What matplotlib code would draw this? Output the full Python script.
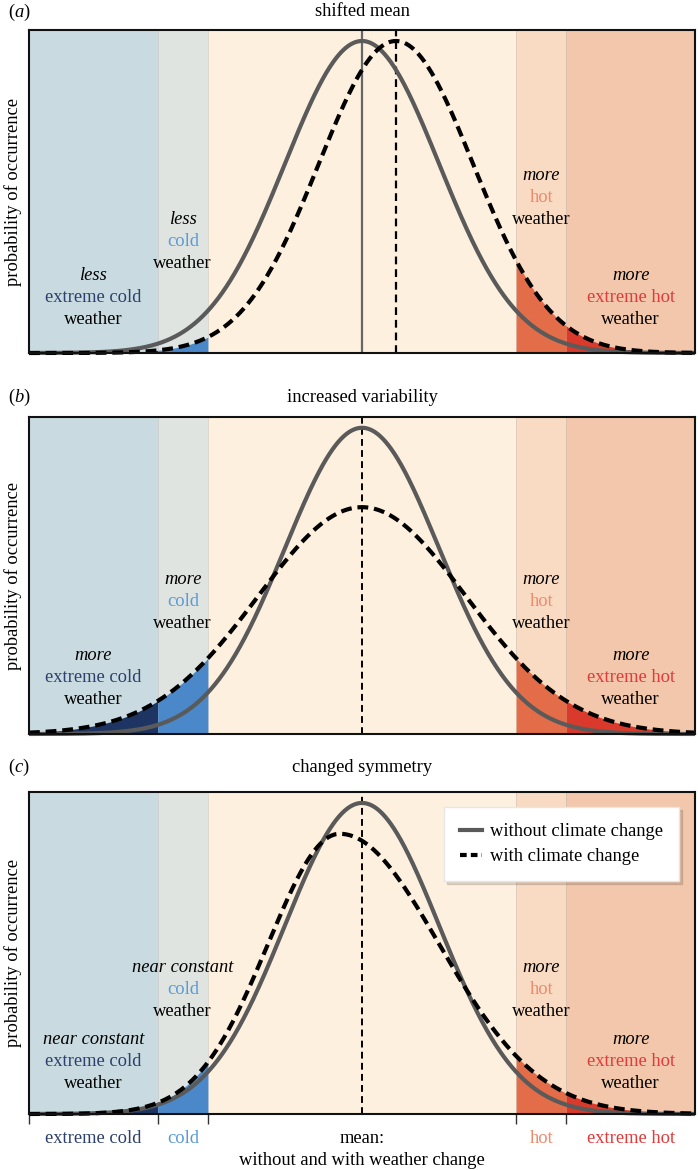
import numpy as np
import matplotlib
matplotlib.use("Agg")
import matplotlib.pyplot as plt
from matplotlib.lines import Line2D
import matplotlib.transforms as mtransforms

plt.rcParams['font.family'] = ['Liberation Serif', 'DejaVu Serif']
plt.rcParams['mathtext.fontset'] = 'custom'
plt.rcParams['mathtext.rm'] = 'Liberation Serif'
plt.rcParams['mathtext.it'] = 'Liberation Serif:italic'

# ---------------- data ----------------
panel_letters = ["a", "b", "c"]
panel_titles = ["shifted mean", "increased variability", "changed symmetry"]
# category thresholds (in standard deviations of the 'without' distribution)
thresholds = [-2.65, -2.0, 2.0, 2.65]
category_names = ["extreme cold", "cold", "hot", "extreme hot"]
# baseline distribution
base_mode = 0.0
base_sd = 1.0
# changed distribution (two-piece normal): mode, left sd, right sd
changed_mode = [0.44, 0.0, -0.29]
changed_sd_left = [1.0, 1.35, 0.93]
changed_sd_right = [1.0, 1.35, 1.29]
# mean marker lines per panel
mean_without = [0.0, 0.0, 0.0]
mean_with = [0.44, 0.0, 0.0]
# qualifiers for the four categories
qualifiers = [["less", "less", "more", "more"],
              ["more", "more", "more", "more"],
              ["near constant", "near constant", "more", "more"]]
legend_labels = ["without climate change", "with climate change"]

# ---------------- style ----------------
bg_colors = ["#c9dbe0", "#dfe4e1", "#fdf0de", "#f9dbc4", "#f3c7ab"]
fill_colors = ["#1e3563", "#4a88c9", "#e36d48", "#da3a2c"]
word_colors = ["#2d3f6c", "#5b9bd5", "#ef8a6b", "#e03a3a"]
FS = 13.3
W, H = 698, 1170
XMIN, XMAX = -4.32, 4.32
YMAX = 0.413


def two_piece(x, mode, sl, sr):
    a = 2.0 / (np.sqrt(2 * np.pi) * (sl + sr))
    s = np.where(x < mode, sl, sr)
    return a * np.exp(-(x - mode) ** 2 / (2 * s ** 2))


fig = plt.figure(figsize=(W / 100, H / 100), dpi=100)
fig.patch.set_facecolor("white")

# axes pixel boxes: (left, top, right, bottom)
boxes = [(29, 30, 695, 353), (29, 417, 695, 734), (29, 792, 695, 1114)]
label_y = [12, 397, 767]
# text row offsets (px above axes bottom) for top line of each annotation
row_extreme = [78, 79, 75]
row_cold = [134, 154, 146]
row_hot = [178, 154, 146]
line_gap = 22

x = np.linspace(XMIN, XMAX, 1200)
region_edges = [XMIN, thresholds[0], thresholds[1], thresholds[2], thresholds[3], XMAX]

for i in range(3):
    l, t, r, b = boxes[i]
    ax = fig.add_axes([l / W, 1 - b / H, (r - l) / W, (b - t) / H])
    ax.set_xlim(XMIN, XMAX)
    ax.set_ylim(0, YMAX)
    axh = b - t
    # backgrounds
    for k in range(5):
        ax.axvspan(region_edges[k], region_edges[k + 1], color=bg_colors[k], lw=0, zorder=0)
    for k in range(4):
        ax.axvline(thresholds[k], color="#b9b9b5", lw=0.6, alpha=0.5, zorder=0.5)

    base = two_piece(x, base_mode, base_sd, base_sd)
    chg = two_piece(x, changed_mode[i], changed_sd_left[i], changed_sd_right[i])

    tails = [(XMIN, thresholds[0]), (thresholds[0], thresholds[1]),
             (thresholds[2], thresholds[3]), (thresholds[3], XMAX)]
    for k, (a0, a1) in enumerate(tails):
        m = (x >= a0) & (x <= a1)
        xs = np.concatenate([[a0], x[m], [a1]])
        ys = two_piece(xs, changed_mode[i], changed_sd_left[i], changed_sd_right[i])
        ax.fill_between(xs, 0, ys, color=fill_colors[k], lw=0, zorder=1)

    # mean lines
    if i == 0:
        ax.axvline(mean_without[i], color="#666666", lw=1.6, zorder=2)
        ax.axvline(mean_with[i], color="black", lw=1.6, dashes=(3.5, 2.2), zorder=2)
    else:
        ax.axvline(mean_with[i], color="black", lw=1.4, dashes=(3.5, 2.2), zorder=2)

    ax.plot(x, base, color="#5a5a5a", lw=3.0, zorder=3, solid_capstyle="butt", clip_on=False)
    ax.plot(x, chg, color="black", lw=3.0, dashes=(2.6, 1.4), zorder=4, clip_on=False)

    for sp in ax.spines.values():
        sp.set_linewidth(1.5)
        sp.set_color("#111111")
        sp.set_zorder(5)

    ax.set_yticks([])
    if i == 2:
        ax.set_xticks([XMIN] + thresholds)
        ax.set_xticklabels([])
        ax.tick_params(axis="x", length=7, width=1.0, color="#333333", direction="out")
    else:
        ax.set_xticks([])

    ax.set_ylabel("probability of occurrence", fontsize=FS)
    ax.yaxis.set_label_coords(-0.011, 0.5)

    # title & panel letter
    fig.text(362 / W, 1 - label_y[i] / H, panel_titles[i], fontsize=FS,
             ha="center", va="center")
    fig.text(8 / W, 1 - label_y[i] / H, "(" + r"$\mathit{" + panel_letters[i] + "}$" + ")",
             fontsize=FS, ha="left", va="center")

    # annotations
    centers = [(XMIN + thresholds[0]) / 2, (thresholds[0] + thresholds[1]) / 2,
               (thresholds[2] + thresholds[3]) / 2, (thresholds[3] + XMAX) / 2]
    rows = [row_extreme[i], row_cold[i], row_hot[i], row_extreme[i]]
    trans = mtransforms.blended_transform_factory(ax.transData, ax.transAxes)
    for k in range(4):
        y0 = rows[k]
        words = [(qualifiers[i][k], "black", "italic"),
                 (category_names[k], word_colors[k], "normal"),
                 ("weather", "black", "normal")]
        for j, (wd, c, st) in enumerate(words):
            yy = (y0 - j * line_gap) / axh
            ax.text(centers[k], yy, wd, color=c, style=st, fontsize=FS,
                    ha="center", va="center", transform=trans, zorder=6)

    if i == 2:
        handles = [Line2D([], [], color="#5a5a5a", lw=3.0),
                   Line2D([], [], color="black", lw=3.0, dashes=(1.6, 1.0))]
        leg = ax.legend(handles, legend_labels, loc="upper right",
                        bbox_to_anchor=(0.976, 0.952), borderaxespad=0,
                        fontsize=FS, frameon=True, fancybox=False, framealpha=1,
                        edgecolor="#e6e6e6", handlelength=1.2, handletextpad=0.45,
                        labelspacing=0.45, borderpad=0.85,
                        shadow={"color": "#000000", "alpha": 0.12, "ox": 2, "oy": -2})
        leg.set_zorder(10)
        # bottom category labels
        for k in range(4):
            ax.text(centers[k], -0.075, category_names[k], color=word_colors[k],
                    fontsize=FS, ha="center", va="center", transform=trans)
        ax.text(0.0, -0.075, "mean:", color="black", fontsize=FS, ha="center",
                va="center", transform=trans)
        ax.text(0.0, -0.143, "without and with weather change", color="black",
                fontsize=FS, ha="center", va="center", transform=trans)

fig.savefig("out.png", dpi=100)
